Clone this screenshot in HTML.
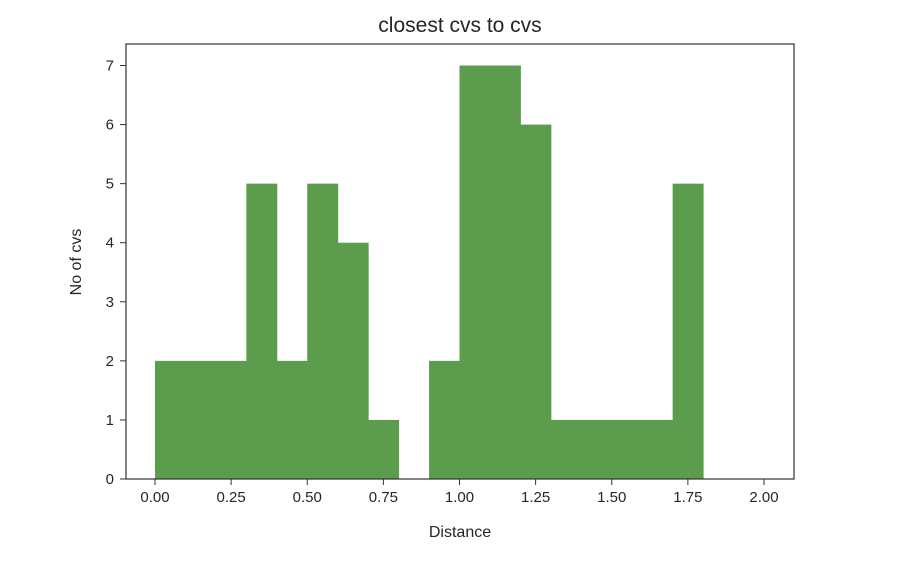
<!DOCTYPE html>
<html><head><meta charset="utf-8"><style>
body{margin:0;background:#fff;}
svg text{font-family:"Liberation Sans","DejaVu Sans",sans-serif;fill:#262626;}
</style></head><body>
<svg id="chart" width="920" height="558" viewBox="0 0 920 558">
<text x="460" y="32" font-size="21" text-anchor="middle">closest cvs to cvs</text>
<g id="bars"></g>
<g id="xticks"></g>
<g id="yticks"></g>
<rect x="126" y="44" width="668" height="435" fill="none" stroke="#333" stroke-width="1.2"/>
<text x="460" y="537" font-size="16" text-anchor="middle">Distance</text>
<text transform="translate(81,262) rotate(-90)" font-size="16" text-anchor="middle">No of cvs</text>
</svg>
<script>
const binEdges=[0,0.1,0.2,0.3,0.4,0.5,0.6,0.7,0.8,0.9,1.0,1.1,1.2,1.3,1.4,1.5,1.6,1.7,1.8,1.9,2.0];
const counts=[2,2,2,5,2,5,4,1,0,2,7,7,6,1,1,1,1,5,0,0];
const xTickValues=[0,0.25,0.5,0.75,1.0,1.25,1.5,1.75,2.0];
const xTickLabels=["0.00","0.25","0.50","0.75","1.00","1.25","1.50","1.75","2.00"];
const yTickValues=[0,1,2,3,4,5,6,7];
const NS="http://www.w3.org/2000/svg";
const xs=v=>155+v*304.5;
const ys=v=>479-v*59.07;
const bars=document.getElementById('bars');
counts.forEach((c,i)=>{
  if(c<=0)return;
  const r=document.createElementNS(NS,'rect');
  const x0=xs(binEdges[i]),x1=xs(binEdges[i+1]);
  r.setAttribute('x',x0);r.setAttribute('width',x1-x0+0.5);
  r.setAttribute('y',ys(c));r.setAttribute('height',ys(0)-ys(c));
  r.setAttribute('fill','#5b9c4d');
  
  
  bars.appendChild(r);
});
const xg=document.getElementById('xticks');
xTickValues.forEach((v,i)=>{
  const l=document.createElementNS(NS,'line');
  l.setAttribute('x1',xs(v));l.setAttribute('x2',xs(v));l.setAttribute('y1',479);l.setAttribute('y2',485);
  l.setAttribute('stroke','#333');
  
  
  xg.appendChild(l);
  const t=document.createElementNS(NS,'text');
  t.setAttribute('x',xs(v));t.setAttribute('y',502);t.setAttribute('font-size','15');t.setAttribute('text-anchor','middle');
  t.textContent=xTickLabels[i];
  
  
  xg.appendChild(t);
});
const yg=document.getElementById('yticks');
yTickValues.forEach(v=>{
  const l=document.createElementNS(NS,'line');
  l.setAttribute('x1',120);l.setAttribute('x2',126);l.setAttribute('y1',ys(v));l.setAttribute('y2',ys(v));
  l.setAttribute('stroke','#333');
  
  
  yg.appendChild(l);
  const t=document.createElementNS(NS,'text');
  t.setAttribute('x',114);t.setAttribute('y',ys(v)+5);t.setAttribute('font-size','15');t.setAttribute('text-anchor','end');
  t.textContent=String(v);
  
  
  yg.appendChild(t);
});
</script>
</body></html>
